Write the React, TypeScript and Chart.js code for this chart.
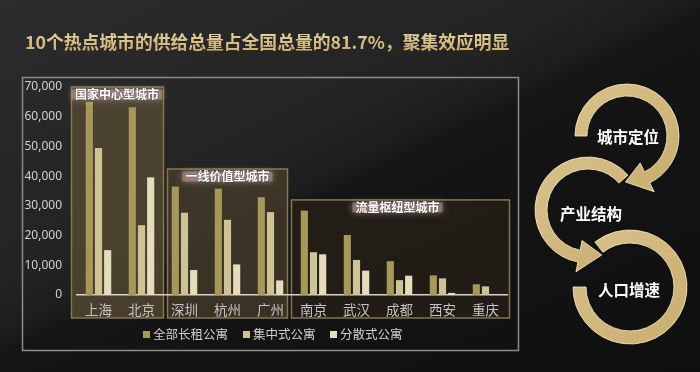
import React, { useEffect, useRef } from "react";
import { Chart, registerables } from "chart.js";
Chart.register(...registerables);

const titleText = "10个热点城市的供给总量占全国总量的81.7%，聚集效应明显";
const cities = ["上海", "北京", "深圳", "杭州", "广州", "南京", "武汉", "成都", "西安", "重庆"];
const seriesNames = ["全部长租公寓", "集中式公寓", "分散式公寓"];
const allRental = [65000, 63200, 36500, 35800, 32900, 28400, 20200, 11400, 6600, 3600];
const centralized = [49500, 23500, 27700, 25300, 27900, 14400, 11800, 5000, 5600, 2900];
const scattered = [15100, 39600, 8400, 10300, 4900, 13700, 8200, 6500, 700, 300];
const yMax = 70000;
const yStep = 10000;
const groupNames = ["国家中心型城市", "一线价值型城市", "流量枢纽型城市"];
const groupFirst = [0, 2, 5];
const groupLast = [1, 4, 9];
const cycleSteps = ["城市定位", "产业结构", "人口增速"];

const seriesColors = ["#a69859", "#cdc396", "#e4dcbd"];
const CJK = '"Noto Sans CJK SC", "Noto Sans", sans-serif';

function ringArrow(
  ctx: CanvasRenderingContext2D,
  cx: number, cy: number, r: number, w: number,
  a0: number, a1: number, ccw: boolean,
  head: null | { tip: number; half: number }
) {
  const d = Math.PI / 180;
  ctx.save();
  ctx.beginPath();
  ctx.arc(cx, cy, r + w / 2, a0 * d, a1 * d, ccw);
  if (head) {
    const ax = a1 * d;
    ctx.lineTo(cx + (r + head.half) * Math.cos(ax), cy + (r + head.half) * Math.sin(ax));
    ctx.lineTo(cx + r * Math.cos(head.tip * d), cy + r * Math.sin(head.tip * d));
    ctx.lineTo(cx + (r - head.half) * Math.cos(ax), cy + (r - head.half) * Math.sin(ax));
  }
  ctx.arc(cx, cy, r - w / 2, a1 * d, a0 * d, !ccw);
  ctx.closePath();
  ctx.lineWidth = 3;
  ctx.strokeStyle = "#121212";
  ctx.stroke();
  const g = ctx.createLinearGradient(cx - r, cy - r, cx + r, cy + r);
  g.addColorStop(0, "#d8c08a");
  g.addColorStop(1, "#c9ae70");
  ctx.fillStyle = g;
  ctx.fill();
  ctx.lineWidth = 1;
  ctx.strokeStyle = "rgba(245,232,195,0.85)";
  ctx.stroke();
  ctx.restore();
}

const decor = {
  id: "decor",
  beforeDraw(chart: any) {
    const { ctx } = chart;
    const x = chart.scales.x;
    const y = chart.scales.y;
    ctx.save();
    // outer frame
    ctx.strokeStyle = "#8c8c8c";
    ctx.lineWidth = 1.5;
    ctx.strokeRect(22.5, 77.5, 496, 273);
    // group boxes
    const step = x.getPixelForValue(1) - x.getPixelForValue(0);
    const tops = [70000, 42400, 32000];
    const padL = [-5.5, 4.5, -0.5];
    const padR = [0.5, -4.5, 2.5];
    const fills = ["rgba(88,76,52,0.75)", "rgba(72,62,44,0.7)", "rgba(40,34,24,0.7)"];
    for (let i = 0; i < groupNames.length; i++) {
      const l = x.getPixelForValue(groupFirst[i]) - step / 2 + padL[i];
      const r = x.getPixelForValue(groupLast[i]) + step / 2 + padR[i];
      const t = y.getPixelForValue(tops[i]);
      const b = 318;
      ctx.fillStyle = fills[i];
      ctx.fillRect(l, t, r - l, b - t);
      ctx.strokeStyle = "#85764f";
      ctx.lineWidth = 1.5;
      ctx.strokeRect(l, t, r - l, b - t);
    }
    ctx.restore();
  },
  afterDraw(chart: any) {
    const { ctx } = chart;
    const x = chart.scales.x;
    const y = chart.scales.y;
    ctx.save();
    // title
    ctx.font = `bold 17.8px ${CJK}`;
    ctx.textBaseline = "middle";
    ctx.textAlign = "left";
    const tg = ctx.createLinearGradient(0, 32, 0, 52);
    tg.addColorStop(0, "#e6d3a0");
    tg.addColorStop(1, "#c9ac6c");
    ctx.fillStyle = tg;
    ctx.fillText(titleText, 25, 42);

    // group labels
    const step = x.getPixelForValue(1) - x.getPixelForValue(0);
    const tops = [70000, 42400, 32000];
    for (let i = 0; i < groupNames.length; i++) {
      const l = x.getPixelForValue(groupFirst[i]) - step / 2;
      const r = x.getPixelForValue(groupLast[i]) + step / 2;
      const cxl = i === 0 ? 117 : (l + r) / 2 + (i === 2 ? -2 : 0);
      const cyl = y.getPixelForValue(tops[i]) + 7.5;
      ctx.font = `bold 12px ${CJK}`;
      const tw = ctx.measureText(groupNames[i]).width;
      ctx.save();
      ctx.shadowColor = "rgba(230,200,200,0.9)";
      ctx.shadowBlur = 6;
      ctx.fillStyle = "rgba(180,150,150,0.55)";
      ctx.fillRect(cxl - tw / 2 - 3, cyl - 5, tw + 6, 10);
      ctx.restore();
      ctx.textAlign = "center";
      ctx.fillStyle = "#ffffff";
      ctx.shadowColor = "rgba(0,0,0,0.6)";
      ctx.shadowBlur = 2;
      ctx.fillText(groupNames[i], cxl, cyl);
      ctx.shadowBlur = 0;
    }

    // legend
    const legX = [143, 243, 330];
    ctx.font = `12.5px ${CJK}`;
    ctx.textAlign = "left";
    for (let i = 0; i < seriesNames.length; i++) {
      ctx.fillStyle = seriesColors[i];
      ctx.fillRect(legX[i], 331, 7, 7);
      ctx.fillStyle = "#cfcfcf";
      ctx.fillText(seriesNames[i], legX[i] + 10, 334.5);
    }

    // cycle rings
    ringArrow(ctx, 630, 287, 50.5, 13, -128, 180, false, null);
    ringArrow(ctx, 588, 210, 47, 12, -41, -259, true, { tip: -287, half: 16 });
    ringArrow(ctx, 627, 136, 46, 12, 180, 424, false, { tip: 452, half: 16 });
    const pos = [[628, 137], [591, 214], [629, 290]];
    ctx.font = `bold 15.5px ${CJK}`;
    ctx.textAlign = "center";
    ctx.fillStyle = "#ffffff";
    for (let i = 0; i < cycleSteps.length; i++) {
      ctx.fillText(cycleSteps[i], pos[i][0], pos[i][1]);
    }
    ctx.restore();
  },
};

export default function App() {
  const ref = useRef<HTMLCanvasElement>(null);
  useEffect(() => {
    if (!ref.current) return;
    const chart = new Chart(ref.current, {
      type: "bar",
      data: {
        labels: cities,
        datasets: [
          { label: seriesNames[0], data: allRental, backgroundColor: seriesColors[0] },
          { label: seriesNames[1], data: centralized, backgroundColor: seriesColors[1] },
          { label: seriesNames[2], data: scattered, backgroundColor: seriesColors[2] },
        ],
      },
      options: {
        animation: false,
        responsive: true,
        maintainAspectRatio: false,
        datasets: { bar: { categoryPercentage: 0.64, barPercentage: 0.78 } },
        layout: { padding: { top: 87, left: 20, right: 193, bottom: 47 } },
        plugins: {
          legend: { display: false },
          title: { display: false },
          tooltip: { enabled: false },
        },
        scales: {
          x: {
            grid: { display: false, drawTicks: false },
            border: { display: true, color: "#d9d4c4", width: 1.5 },
            ticks: { color: "#c4c4c4", font: { family: CJK, size: 13.5 }, padding: 7 },
            afterFit: (s: any) => { s.height = 30; },
          },
          y: {
            min: 0,
            max: yMax,
            grid: { display: false, drawTicks: false },
            border: { display: false },
            ticks: {
              stepSize: yStep,
              padding: 15,
              color: "#d2d2d2",
              font: { family: '"Noto Sans", sans-serif', size: 12 },
              callback: (v: any) => Number(v).toLocaleString("en-US"),
            },
            afterFit: (s: any) => { s.width = 57; },
          },
        },
      },
      plugins: [decor],
    });
    return () => chart.destroy();
  }, []);
  return (
    <div
      style={{
        position: "fixed",
        left: 0,
        top: 0,
        width: 700,
        height: 372,
        background:
          "linear-gradient(154deg, #2c2c2c 0%, #232323 40%, #1d1d1d 47%, #151515 50%, #0f0f0f 100%)",
      }}
    >
      <canvas ref={ref} />
    </div>
  );
}
